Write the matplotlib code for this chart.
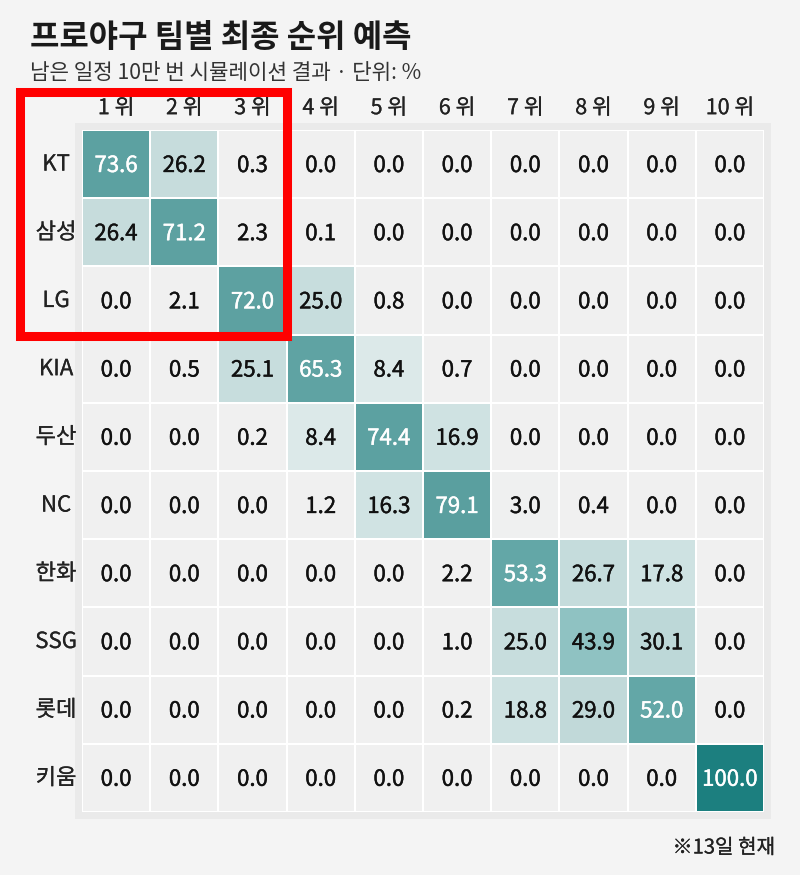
import matplotlib
matplotlib.use("Agg")
import matplotlib.pyplot as plt
import matplotlib.patheffects as pe
import numpy as np
from matplotlib.colors import LinearSegmentedColormap
from matplotlib.patches import Rectangle

plt.rcParams['font.family'] = ['Noto Sans CJK KR', 'DejaVu Sans']

# data
teams = ["KT", "삼성", "LG", "KIA", "두산", "NC", "한화", "SSG", "롯데", "키움"]
ranks = ["1 위", "2 위", "3 위", "4 위", "5 위", "6 위", "7 위", "8 위", "9 위", "10 위"]
probs = np.array([
    [73.6, 26.2, 0.3, 0.0, 0.0, 0.0, 0.0, 0.0, 0.0, 0.0],
    [26.4, 71.2, 2.3, 0.1, 0.0, 0.0, 0.0, 0.0, 0.0, 0.0],
    [0.0, 2.1, 72.0, 25.0, 0.8, 0.0, 0.0, 0.0, 0.0, 0.0],
    [0.0, 0.5, 25.1, 65.3, 8.4, 0.7, 0.0, 0.0, 0.0, 0.0],
    [0.0, 0.0, 0.2, 8.4, 74.4, 16.9, 0.0, 0.0, 0.0, 0.0],
    [0.0, 0.0, 0.0, 1.2, 16.3, 79.1, 3.0, 0.4, 0.0, 0.0],
    [0.0, 0.0, 0.0, 0.0, 0.0, 2.2, 53.3, 26.7, 17.8, 0.0],
    [0.0, 0.0, 0.0, 0.0, 0.0, 1.0, 25.0, 43.9, 30.1, 0.0],
    [0.0, 0.0, 0.0, 0.0, 0.0, 0.2, 18.8, 29.0, 52.0, 0.0],
    [0.0, 0.0, 0.0, 0.0, 0.0, 0.0, 0.0, 0.0, 0.0, 100.0],
])

title = "프로야구 팀별 최종 순위 예측"
subtitle = "남은 일정 10만 번 시뮬레이션 결과 · 단위: %"
note = "※13일 현재"

W, H = 800, 875
fig = plt.figure(figsize=(W / 100, H / 100), dpi=100)
fig.patch.set_facecolor("#f4f4f4")

# colour steps
cmap = LinearSegmentedColormap.from_list("teal", [
    (0.0, "#f0f0f0"), (0.04, "#eff0f0"), (0.08, "#dce9e9"),
    (0.17, "#cfe2e2"), (0.28, "#c4dbdb"), (0.44, "#8fc2c2"),
    (0.52, "#63a7a7"), (0.8, "#5a9f9f"), (1.0, "#1c7f7f"),
])


def heavier(color, w=0.3):
    # thin stroke so the numbers read like the medium weight in the original
    return [pe.withStroke(linewidth=w, foreground=color)]


# panel behind the grid
fig.patches.append(Rectangle((75 / W, 1 - 819 / H), 696 / W, 696 / H,
                             transform=fig.transFigure, facecolor="#eaeaea",
                             edgecolor="none", zorder=-1))

ax = fig.add_axes([82 / W, 1 - 812 / H, 682 / W, 682 / H])
ax.set_zorder(1)
ax.patch.set_alpha(0)
ax.pcolormesh(probs, cmap=cmap, vmin=0, vmax=100, edgecolors="white", linewidth=1.1)
ax.set_xlim(0, 10)
ax.set_ylim(10, 0)
for s in ax.spines.values():
    s.set_visible(False)
ax.set_xticks([])
ax.set_yticks([])

for i in range(len(teams)):
    for j in range(len(ranks)):
        v = probs[i, j]
        c = "white" if v >= 50 else "#111111"
        ax.text(j + 0.5, i + 0.52, f"{v:.1f}", ha="center", va="center",
                fontsize=16, color=c, path_effects=heavier(c))

for j, r in enumerate(ranks):
    ax.text(j + 0.5, -0.32, r, ha="center", va="center", fontsize=15.5,
            color="#222222", clip_on=False, path_effects=heavier("#222222", 0.15))
for i, t in enumerate(teams):
    ax.text(-0.38, i + 0.5, t, ha="center", va="center", fontsize=16,
            color="#222222", clip_on=False, path_effects=heavier("#222222", 0.15))

fig.text(30 / W, 1 - 38 / H, title, fontsize=23, fontweight="bold",
         ha="left", va="center", color="#1a1a1a")
fig.text(30 / W, 1 - 73 / H, subtitle, fontsize=15.3, ha="left", va="center",
         color="#333333")
fig.text(775 / W, 1 - 848 / H, note, fontsize=14.5, ha="right", va="center",
         color="#222222", path_effects=heavier("#222222", 0.15))

# red highlight box
fig.patches.append(Rectangle((20 / W, 1 - 336 / H), 267 / W, 244 / H,
                             transform=fig.transFigure, facecolor="none",
                             edgecolor="#ff0000", linewidth=6.5, zorder=5))

fig.savefig("out.png", dpi=100, facecolor=fig.get_facecolor())
